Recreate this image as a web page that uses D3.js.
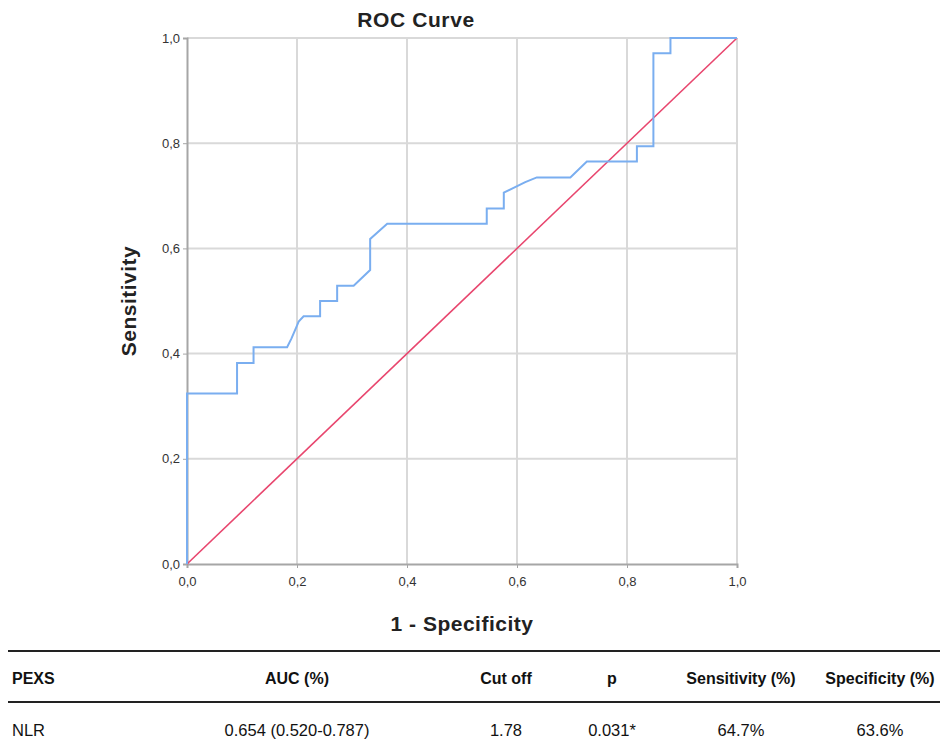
<!DOCTYPE html>
<html><head><meta charset="utf-8">
<script src="https://cdn.jsdelivr.net/npm/d3@7/dist/d3.min.js"></script>
<style>body{margin:0;background:#fff}svg{display:block}</style>
</head><body>
<svg id="c" width="940" height="751"></svg>
<script>
const fpr = [0,0,0.091,0.091,0.121,0.121,0.182,0.190,0.199,0.203,0.212,0.242,0.242,0.273,0.273,0.303,0.333,0.333,0.364,0.545,0.545,0.576,0.576,0.615,0.636,0.697,0.727,0.818,0.818,0.848,0.848,0.879,0.879,1];
const tpr = [0,0.324,0.324,0.382,0.382,0.412,0.412,0.429,0.451,0.461,0.471,0.471,0.500,0.500,0.529,0.529,0.559,0.618,0.647,0.647,0.676,0.676,0.706,0.726,0.735,0.735,0.765,0.765,0.794,0.794,0.971,0.971,1,1];
const refLine = [0,1];
const ticks = [0,0.2,0.4,0.6,0.8,1.0];
const tableHeader = ["PEXS","AUC (%)","Cut off","p","Sensitivity (%)","Specificity (%)"];
const tableRow = ["NLR","0.654 (0.520-0.787)","1.78","0.031*","64.7%","63.6%"];

const svg = d3.select("#c");
const x = d3.scaleLinear().domain([0,1]).range([187,737]);
const y = d3.scaleLinear().domain([0,1]).range([564,38]);
const fmt = d => d.toFixed(1).replace(".", ",");
const font = "'Liberation Sans', Arial, sans-serif";

// gridlines
const g = svg.append("g");
ticks.filter(t=>t>0).forEach(t=>{
  g.append("line").attr("x1",x(t)).attr("x2",x(t)).attr("y1",y(0)).attr("y2",y(1))
   .attr("stroke","#d9d9d9").attr("stroke-width",2);
  g.append("line").attr("x1",x(0)).attr("x2",x(1)).attr("y1",y(t)).attr("y2",y(t))
   .attr("stroke","#d9d9d9").attr("stroke-width",2);
});

// axes
const yAx = svg.append("g").attr("transform",`translate(${x(0)},0)`)
  .call(d3.axisLeft(y).tickValues(ticks).tickFormat(fmt).tickSize(4).tickPadding(3));
const xAx = svg.append("g").attr("transform",`translate(0,${y(0)})`)
  .call(d3.axisBottom(x).tickValues(ticks).tickFormat(fmt).tickSize(4).tickPadding(9));
[yAx,xAx].forEach(a=>{
  a.select(".domain").attr("stroke","#a6a6a6").attr("stroke-width",2);
  a.selectAll(".tick line").attr("stroke","#a6a6a6").attr("stroke-width",1);
  a.selectAll(".tick text").attr("fill","#333").style("font-family",font).style("font-size","13px");
});

// reference line
svg.append("line").attr("x1",x(refLine[0])).attr("y1",y(refLine[0]))
  .attr("x2",x(refLine[1])).attr("y2",y(refLine[1]))
  .attr("stroke","#e8466e").attr("stroke-width",1.6);

// ROC curve
const pts = fpr.map((f,i)=>[f,tpr[i]]);
svg.append("path").datum(pts)
  .attr("d", d3.line().x(d=>x(d[0])).y(d=>y(d[1])))
  .attr("fill","none").attr("stroke","#7aaef0").attr("stroke-width",2);

// titles
svg.append("text").attr("x",416).attr("y",27).attr("text-anchor","middle")
  .style("font-family",font).style("font-weight","bold").style("font-size","21px").style("letter-spacing","0.6px").attr("fill","#222").text("ROC Curve");
svg.append("text").attr("transform",`translate(136,${(y(0)+y(1))/2}) rotate(-90)`).attr("text-anchor","middle")
  .style("font-family",font).style("font-weight","bold").style("font-size","21px").style("letter-spacing","0.5px").attr("fill","#222").text("Sensitivity");
svg.append("text").attr("x",462).attr("y",631).attr("text-anchor","middle")
  .style("font-family",font).style("font-weight","bold").style("font-size","21px").style("letter-spacing","0.5px").attr("fill","#222").text("1 - Specificity");

// table
const tfont = "'Liberation Sans', Arial, sans-serif";
const colX = [12,297,506,612,741,880];
const anchors = ["start","middle","middle","middle","middle","middle"];
svg.append("line").attr("x1",8).attr("x2",940).attr("y1",651).attr("y2",651).attr("stroke","#222").attr("stroke-width",2);
svg.append("line").attr("x1",8).attr("x2",940).attr("y1",702).attr("y2",702).attr("stroke","#222").attr("stroke-width",2);
tableHeader.forEach((h,i)=>{
  svg.append("text").attr("x",colX[i]).attr("y",684).attr("text-anchor",anchors[i])
   .style("font-family",tfont).style("font-weight","bold").style("font-size","16px").attr("fill","#111").text(h);
});
tableRow.forEach((h,i)=>{
  svg.append("text").attr("x",colX[i]).attr("y",736).attr("text-anchor",anchors[i])
   .style("font-family",tfont).style("font-size","16.5px").attr("fill","#111").text(h);
});
</script>
</body></html>
